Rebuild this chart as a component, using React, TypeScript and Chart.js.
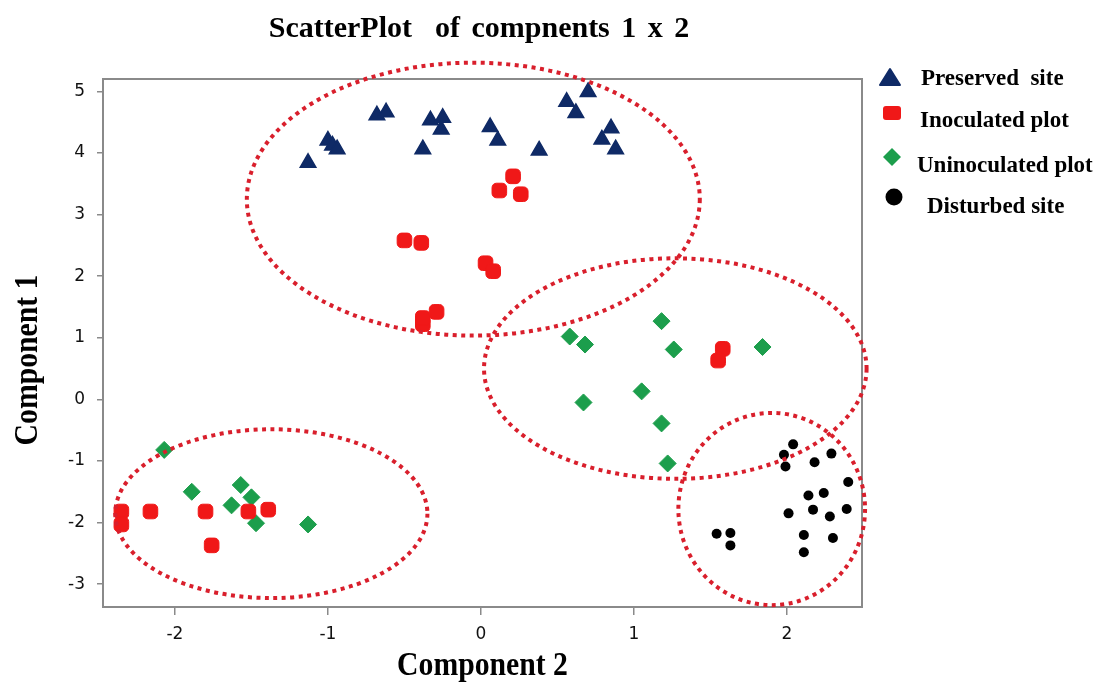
import { useEffect, useRef } from 'react';
import { Chart, registerables } from 'chart.js';

Chart.register(...registerables);

// ---------------- data ----------------
const seriesNames = ['Preserved  site', 'Inoculated plot', 'Uninoculated plot', 'Disturbed site'];

const preservedX = [-1.13, -1.0, -0.97, -0.94, -0.68, -0.62, -0.38, -0.33, -0.26, -0.25, 0.06, 0.11, 0.38, 0.56, 0.62, 0.7, 0.79, 0.85, 0.88];
const preservedY = [3.84, 4.2, 4.12, 4.06, 4.61, 4.66, 4.06, 4.53, 4.38, 4.57, 4.42, 4.2, 4.04, 4.83, 4.65, 4.99, 4.22, 4.4, 4.06];

const inoculatedX = [0.21, 0.12, 0.26, -0.5, -0.39, 0.03, 0.08, -0.38, -0.38, -0.29, 1.58, 1.55, -2.35, -2.35, -2.16, -1.8, -1.76, -1.52, -1.39];
const inoculatedY = [3.62, 3.39, 3.33, 2.58, 2.54, 2.21, 2.08, 1.22, 1.32, 1.42, 0.82, 0.63, -1.82, -2.03, -1.82, -1.82, -2.37, -1.82, -1.79];

const uninoculatedX = [0.58, 0.68, 1.18, 1.26, 1.84, 1.05, 0.67, 1.18, 1.22, -2.07, -1.89, -1.57, -1.5, -1.63, -1.47, -1.13];
const uninoculatedY = [1.02, 0.89, 1.27, 0.81, 0.85, 0.13, -0.05, -0.39, -1.04, -0.82, -1.5, -1.39, -1.59, -1.72, -2.01, -2.03];

const disturbedX = [2.04, 1.98, 1.99, 2.18, 2.29, 2.4, 2.14, 2.24, 2.01, 2.17, 2.28, 2.39, 2.11, 2.3, 2.11, 1.54, 1.63, 1.63];
const disturbedY = [-0.73, -0.9, -1.09, -1.02, -0.88, -1.34, -1.56, -1.52, -1.85, -1.79, -1.9, -1.78, -2.2, -2.25, -2.48, -2.18, -2.17, -2.37];

const xTicks = [-2, -1, 0, 1, 2];
const yTicks = [-3, -2, -1, 0, 1, 2, 3, 4, 5];

// cluster ellipses (data units): centre x, centre y, radius x, radius y
const clusterCx = [-0.05, 1.27, 1.9, -1.37];
const clusterCy = [3.25, 0.5, -1.78, -1.855];
const clusterRx = [1.48, 1.25, 0.61, 1.02];
const clusterRy = [2.215, 1.79, 1.56, 1.37];

const titleText = 'ScatterPlot  of compnents 1 x 2';
const xTitle = 'Component 2';
const yTitle = 'Component 1';

// ---------------- styles ----------------
const NAVY = '#0f2a66';
const RED = '#f01818';
const GREEN = '#1c9e4c';
const BLACK = '#000000';
const ELLIPSE = '#d91f2c';
const FRAME = '#8a8a8a';
const SERIF = '"Liberation Serif", "Times New Roman", serif';

const toPts = (xs: number[], ys: number[]) => xs.map((x, i) => ({ x, y: ys[i] }));

const ellipsePlugin = {
  id: 'clusterEllipses',
  afterDatasetsDraw(chart: any) {
    const { ctx, scales } = chart;
    const xs = scales.x;
    const ys = scales.y;
    ctx.save();
    ctx.strokeStyle = ELLIPSE;
    ctx.lineWidth = 4;
    ctx.setLineDash([4, 4.5]);
    for (let i = 0; i < clusterCx.length; i++) {
      const px = xs.getPixelForValue(clusterCx[i]);
      const py = ys.getPixelForValue(clusterCy[i]);
      const rx = Math.abs(xs.getPixelForValue(clusterCx[i] + clusterRx[i]) - px);
      const ry = Math.abs(ys.getPixelForValue(clusterCy[i] + clusterRy[i]) - py);
      ctx.beginPath();
      ctx.ellipse(px, py, rx, ry, 0, 0, Math.PI * 2);
      ctx.stroke();
    }
    ctx.restore();
  },
};

const framePlugin = {
  id: 'frame',
  afterDatasetsDraw(chart: any) {
    const { ctx, chartArea: a } = chart;
    ctx.save();
    ctx.strokeStyle = FRAME;
    ctx.lineWidth = 2;
    ctx.strokeRect(a.left, a.top, a.right - a.left, a.bottom - a.top);
    ctx.restore();
  },
};

const drawMarker = (ctx: CanvasRenderingContext2D, kind: number, x: number, y: number) => {
  ctx.beginPath();
  if (kind === 0) {
    ctx.fillStyle = NAVY;
    ctx.moveTo(x, y - 9);
    ctx.lineTo(x + 10, y + 7);
    ctx.lineTo(x - 10, y + 7);
    ctx.closePath();
    ctx.lineJoin = 'round';
    ctx.lineWidth = 2;
    ctx.strokeStyle = NAVY;
    ctx.fill();
    ctx.stroke();
    return;
  }
  if (kind === 1) {
    ctx.fillStyle = RED;
    (ctx as any).roundRect(x - 9, y - 7, 18, 14, 3);
    ctx.fill();
    return;
  }
  if (kind === 2) {
    ctx.fillStyle = GREEN;
    ctx.moveTo(x, y - 9);
    ctx.lineTo(x + 9, y);
    ctx.lineTo(x, y + 9);
    ctx.lineTo(x - 9, y);
    ctx.closePath();
    ctx.fill();
    return;
  }
  ctx.fillStyle = BLACK;
  ctx.arc(x, y, 8.5, 0, Math.PI * 2);
  ctx.fill();
};

const legendMarkerX = [890, 892, 892, 894];
const legendMarkerY = [78, 113, 157, 197];
const legendTextX = [921, 920, 917, 927];
const legendBaseline = [85, 127, 172, 213];

const textPlugin = {
  id: 'texts',
  afterDraw(chart: any) {
    const { ctx, chartArea: a } = chart;
    ctx.save();
    ctx.fillStyle = '#000';
    // main title
    ctx.font = `bold 30px ${SERIF}`;
    ctx.textAlign = 'center';
    ctx.textBaseline = 'alphabetic';
    (ctx as any).wordSpacing = '4px';
    ctx.fillText(titleText, 479, 37);
    (ctx as any).wordSpacing = '0px';

    // x-axis title (slightly condensed)
    const cx = (a.left + a.right) / 2;
    ctx.save();
    ctx.translate(cx, 675);
    ctx.scale(0.9, 1);
    ctx.font = `bold 33px ${SERIF}`;
    ctx.fillText(xTitle, 0, 0);
    ctx.restore();

    // y-axis title (rotated, condensed along its length)
    ctx.save();
    ctx.translate(37, 360);
    ctx.rotate(-Math.PI / 2);
    ctx.scale(0.9, 1);
    ctx.font = `bold 33px ${SERIF}`;
    ctx.fillText(yTitle, 0, 0);
    ctx.restore();

    // legend
    ctx.font = `bold 23px ${SERIF}`;
    ctx.textAlign = 'left';
    for (let i = 0; i < seriesNames.length; i++) {
      drawMarker(ctx, i, legendMarkerX[i], legendMarkerY[i]);
      ctx.fillStyle = '#000';
      ctx.fillText(seriesNames[i], legendTextX[i], legendBaseline[i]);
    }
    ctx.restore();
  },
};

export default function App() {
  const ref = useRef<HTMLCanvasElement | null>(null);

  useEffect(() => {
    document.body.style.margin = '0';
    const canvas = ref.current;
    if (!canvas) return;
    const tickFont = { family: '"DejaVu Sans", Verdana, sans-serif', size: 17 };
    const chart = new Chart(canvas, {
      type: 'scatter',
      data: {
        datasets: [
          {
            label: seriesNames[0],
            data: toPts(preservedX, preservedY),
            pointStyle: 'triangle',
            pointRadius: 9,
            backgroundColor: NAVY,
            borderColor: NAVY,
            borderWidth: 1.5,
          },
          {
            label: seriesNames[1],
            data: toPts(inoculatedX, inoculatedY),
            pointStyle: 'rectRounded',
            pointRadius: 8.5,
            backgroundColor: RED,
            borderColor: RED,
            borderWidth: 1,
          },
          {
            label: seriesNames[2],
            data: toPts(uninoculatedX, uninoculatedY),
            pointStyle: 'rectRot',
            pointRadius: 8.5,
            backgroundColor: GREEN,
            borderColor: GREEN,
            borderWidth: 1,
          },
          {
            label: seriesNames[3],
            data: toPts(disturbedX, disturbedY),
            pointStyle: 'circle',
            pointRadius: 5,
            backgroundColor: BLACK,
            borderColor: BLACK,
            borderWidth: 0,
          },
        ],
      },
      options: {
        responsive: false,
        animation: false,
        events: [],
        layout: { padding: { top: 79, right: 252, bottom: 0, left: 0 } },
        plugins: {
          legend: { display: false },
          title: { display: false },
          tooltip: { enabled: false },
        },
        scales: {
          x: {
            type: 'linear',
            min: -2.47,
            max: 2.49,
            afterBuildTicks: (s: any) => {
              s.ticks = xTicks.map((v) => ({ value: v }));
            },
            afterFit: (s: any) => {
              s.height = 84;
            },
            ticks: { font: tickFont, color: '#111', padding: 9 },
            grid: { display: true, drawOnChartArea: false, drawTicks: true, tickLength: 8, color: FRAME, lineWidth: 1.5 },
            border: { display: false },
            title: { display: false },
          },
          y: {
            type: 'linear',
            min: -3.37,
            max: 5.2,
            afterBuildTicks: (s: any) => {
              s.ticks = yTicks.map((v) => ({ value: v }));
            },
            afterFit: (s: any) => {
              s.width = 103;
            },
            ticks: { font: tickFont, color: '#111', padding: 12 },
            grid: { display: true, drawOnChartArea: false, drawTicks: true, tickLength: 6, color: FRAME, lineWidth: 1.5 },
            border: { display: false },
            title: { display: false },
          },
        },
      },
      plugins: [framePlugin, ellipsePlugin, textPlugin],
    } as any);
    return () => chart.destroy();
  }, []);

  return (
    <div style={{ position: 'fixed', left: 0, top: 0, width: 1114, height: 691, background: '#fff' }}>
      <canvas ref={ref} width={1114} height={691} style={{ display: 'block', width: 1114, height: 691 }} />
    </div>
  );
}
